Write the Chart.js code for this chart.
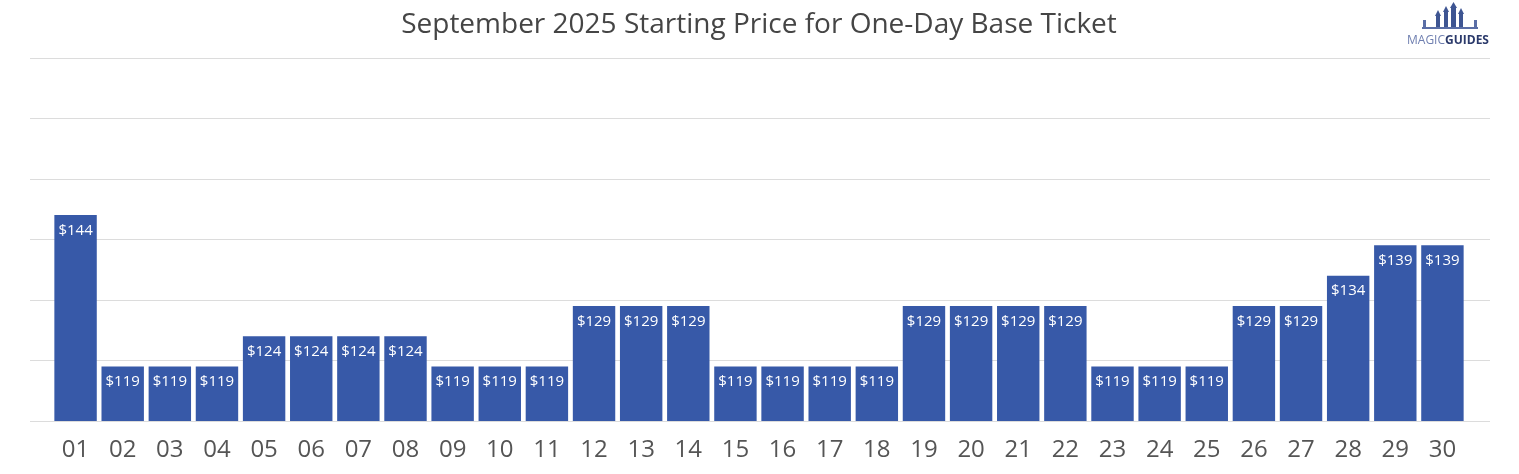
<!DOCTYPE html>
<html>
<head>
<meta charset="utf-8">
<script src="https://cdn.jsdelivr.net/npm/chart.js@4"></script>
<style>
  html, body { margin: 0; padding: 0; background: #fff; }
  #wrap { width: 1519px; height: 474px; position: relative; }
</style>
</head>
<body>
<div id="wrap"><canvas id="chart"></canvas></div>
<script>
// ── Data ─────────────────────────────────────────────────────────────────────

const days = ['01','02','03','04','05','06','07','08','09','10','11','12','13','14','15',
              '16','17','18','19','20','21','22','23','24','25','26','27','28','29','30'];
const prices = [144,119,119,119,124,124,124,124,119,119,119,129,129,129,119,
                119,119,119,129,129,129,129,119,119,119,129,129,134,139,139];
const yTicks = [110,120,130,140,150,160,170];

const BAR = '#3759a8';
const FONT = "'Open Sans', 'Noto Sans', sans-serif";

// ── Plugins ──────────────────────────────────────────────────────────────────

// gridlines run wider than the bars
const wideGrid = {
  id: 'wideGrid',
  beforeDatasetsDraw(chart) {
    const { ctx, scales: { y } } = chart;
    ctx.save();
    ctx.strokeStyle = '#dcdcdc';
    ctx.lineWidth = 1;
    yTicks.forEach(v => {
      const py = Math.round(y.getPixelForValue(v)) + 0.5;
      ctx.beginPath();
      ctx.moveTo(30, py);
      ctx.lineTo(1490, py);
      ctx.stroke();
    });
    ctx.restore();
  }
};

const barLabels = {
  id: 'barLabels',
  afterDatasetsDraw(chart) {
    const { ctx } = chart;
    const meta = chart.getDatasetMeta(0);
    ctx.save();
    ctx.fillStyle = '#ffffff';
    ctx.font = '15px ' + FONT;
    ctx.textAlign = 'center';
    ctx.textBaseline = 'middle';
    meta.data.forEach((bar, i) => {
      ctx.fillText('$' + prices[i], bar.x, bar.y + 15.5);
    });
    ctx.restore();
  }
};

const logo = {
  id: 'logo',
  afterDraw(chart) {
    const { ctx } = chart;
    ctx.save();
    // little castle
    ctx.fillStyle = '#5a6ea6';
    ctx.fillRect(1422, 27, 56, 2);
    ctx.fillRect(1423, 20, 3, 8);
    ctx.fillRect(1474, 20, 3, 8);
    ctx.fillStyle = '#3e5592';
    [[1436, 16, 4], [1444, 12, 4], [1451, 8, 5], [1459, 14, 4]].forEach(([x, top, w]) => {
      ctx.fillRect(x, top, w, 27 - top);
      ctx.beginPath();
      ctx.moveTo(x - 1, top);
      ctx.lineTo(x + w / 2, top - 6);
      ctx.lineTo(x + w + 1, top);
      ctx.fill();
    });
    ctx.textBaseline = 'alphabetic';
    ctx.font = '12px ' + FONT;
    ctx.fillStyle = '#6f7fb0';
    ctx.fillText('MAGIC', 1407, 44);
    const w = ctx.measureText('MAGIC').width;
    ctx.font = 'bold 12px ' + FONT;
    ctx.fillStyle = '#2b3a6b';
    ctx.fillText('GUIDES', 1407 + w, 44);
    ctx.restore();
  }
};

// ── Chart ────────────────────────────────────────────────────────────────────

new Chart(document.getElementById('chart'), {
  type: 'bar',
  data: {
    labels: days,
    datasets: [{
      data: prices,
      backgroundColor: BAR,
      borderWidth: 0,
      barPercentage: 0.9,
      categoryPercentage: 1.0,
    }],
  },
  options: {
    responsive: true,
    maintainAspectRatio: false,
    animation: false,
    layout: { padding: { left: 52, right: 53, top: 0, bottom: 0 } },
    plugins: {
      legend: { display: false },
      tooltip: { enabled: false },
      title: {
        display: true,
        text: 'September 2025 Starting Price for One-Day Base Ticket',
        color: '#454545',
        font: { family: FONT, size: 28, weight: 'normal' },
        padding: { top: 8, bottom: 16 },
      },
    },
    scales: {
      x: {
        grid: { display: false, drawTicks: false },
        border: { display: false },
        ticks: { color: '#555', padding: 15, maxRotation: 0, font: { family: FONT, size: 24 } },
        afterFit(scale) { scale.height = 53; },
      },
      y: {
        min: 110,
        max: 170,
        ticks: { display: false, stepSize: 10 },
        grid: { display: false, drawTicks: false },
        border: { display: false },
        afterFit(scale) { scale.width = 0; },
      },
    },
  },
  plugins: [wideGrid, barLabels, logo],
});
</script>
</body>
</html>
